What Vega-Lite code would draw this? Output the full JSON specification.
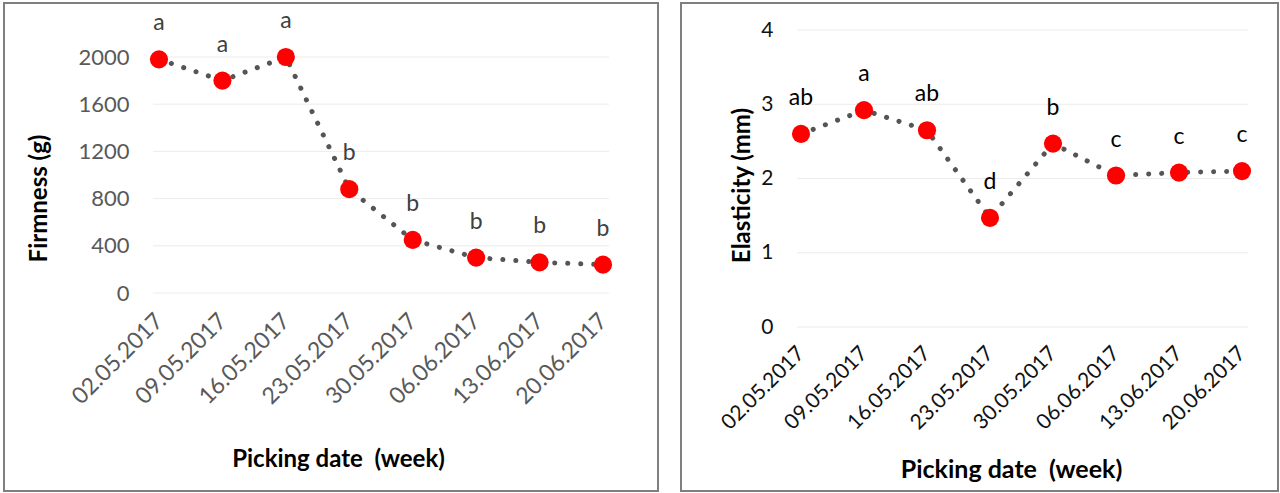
{
  "$schema": "https://vega.github.io/schema/vega-lite/v6.json",
  "padding": {"left": 3, "top": 2, "right": 0, "bottom": 0},
  "autosize": {"type": "pad"},
  "background": "white",
  "bounds": "flush",
  "spacing": 23,
  "config": {"view": {"stroke": "#7f7f7f", "strokeWidth": 2}, "font": "Lato"},
  "datasets": {
    "firm": [
      {"date": "02.05.2017", "v": 1980, "g": "a"},
      {"date": "09.05.2017", "v": 1800, "g": "a"},
      {"date": "16.05.2017", "v": 2000, "g": "a"},
      {"date": "23.05.2017", "v": 880, "g": "b"},
      {"date": "30.05.2017", "v": 450, "g": "b"},
      {"date": "06.06.2017", "v": 300, "g": "b"},
      {"date": "13.06.2017", "v": 260, "g": "b"},
      {"date": "20.06.2017", "v": 240, "g": "b"}
    ],
    "elas": [
      {"date": "02.05.2017", "v": 2.60, "g": "ab"},
      {"date": "09.05.2017", "v": 2.92, "g": "a"},
      {"date": "16.05.2017", "v": 2.65, "g": "ab"},
      {"date": "23.05.2017", "v": 1.47, "g": "d"},
      {"date": "30.05.2017", "v": 2.47, "g": "b"},
      {"date": "06.06.2017", "v": 2.04, "g": "c"},
      {"date": "13.06.2017", "v": 2.08, "g": "c"},
      {"date": "20.06.2017", "v": 2.10, "g": "c"}
    ],
    "firmGrid": [{"v": 0}, {"v": 400}, {"v": 800}, {"v": 1200}, {"v": 1600}, {"v": 2000}],
    "elasGrid": [{"v": 0}, {"v": 1}, {"v": 2}, {"v": 3}, {"v": 4}]
  },
  "hconcat": [
    {
      "width": 654,
      "height": 488,
      "layer": [
        {
          "data": {"name": "firmGrid"},
          "mark": {"type": "rule", "color": "#ececec", "strokeWidth": 1, "xOffset": -6, "x2Offset": 6},
          "encoding": {
            "x": {"datum": "02.05.2017", "type": "ordinal"},
            "x2": {"datum": "20.06.2017"},
            "y": {"field": "v", "type": "quantitative"}
          }
        },
        {
          "data": {"name": "firm"},
          "mark": {"type": "line", "color": "#555555", "strokeWidth": 5, "strokeCap": "round", "strokeDash": [0.1, 12.9]},
          "encoding": {
            "x": {"field": "date", "type": "ordinal"},
            "y": {"field": "v", "type": "quantitative"}
          }
        },
        {
          "data": {"name": "firm"},
          "mark": {"type": "circle", "color": "#ff0000", "opacity": 1, "size": 330},
          "encoding": {
            "x": {
              "field": "date", "type": "ordinal",
              "scale": {"type": "point", "padding": 0, "domain": ["02.05.2017", "09.05.2017", "16.05.2017", "23.05.2017", "30.05.2017", "06.06.2017", "13.06.2017", "20.06.2017"], "range": [155, 599]},
              "axis": {
                "offset": -198, "title": "Picking date \u00a0(week)", "labelAngle": -45, "labelFontSize": 23,
                "labelColor": "#595959", "domain": false, "ticks": false, "tickSize": 0, "labelPadding": 24,
                "titleFontSize": 24, "titleFontWeight": "bold", "titleColor": "#000000",
                "titleX": 334, "titleY": 173, "titleBaseline": "alphabetic", "grid": false, "labelOverlap": false
              }
            },
            "y": {
              "field": "v", "type": "quantitative",
              "scale": {"domain": [0, 2000], "range": [290, 54], "nice": false},
              "axis": {
                "offset": -149, "values": [0, 400, 800, 1200, 1600, 2000], "format": "d", "title": "Firmness (g)",
                "grid": false, "domain": false, "ticks": false, "tickSize": 0, "labelPadding": 24,
                "labelFontSize": 22, "labelColor": "#595959", "titleFontSize": 24, "titleFontWeight": "bold",
                "titleColor": "#000000", "titleX": -114, "titleY": 195, "titleBaseline": "middle", "titleAngle": 270
              }
            }
          }
        },
        {
          "data": {"name": "firm"},
          "mark": {"type": "text", "dy": -29, "baseline": "alphabetic", "fontSize": 23, "color": "#404040"},
          "encoding": {
            "x": {"field": "date", "type": "ordinal"},
            "y": {"field": "v", "type": "quantitative"},
            "text": {"field": "g"}
          }
        }
      ]
    },
    {
      "width": 597,
      "height": 488,
      "layer": [
        {
          "data": {"name": "elasGrid"},
          "mark": {"type": "rule", "color": "#ececec", "strokeWidth": 1, "xOffset": -4, "x2Offset": 6},
          "encoding": {
            "x": {"datum": "02.05.2017", "type": "ordinal"},
            "x2": {"datum": "20.06.2017"},
            "y": {"field": "v", "type": "quantitative"}
          }
        },
        {
          "data": {"name": "elas"},
          "mark": {"type": "line", "color": "#555555", "strokeWidth": 5, "strokeCap": "round", "strokeDash": [0.1, 12.9]},
          "encoding": {
            "x": {"field": "date", "type": "ordinal"},
            "y": {"field": "v", "type": "quantitative"}
          }
        },
        {
          "data": {"name": "elas"},
          "mark": {"type": "circle", "color": "#ff0000", "opacity": 1, "size": 330},
          "encoding": {
            "x": {
              "field": "date", "type": "ordinal",
              "scale": {"type": "point", "padding": 0, "domain": ["02.05.2017", "09.05.2017", "16.05.2017", "23.05.2017", "30.05.2017", "06.06.2017", "13.06.2017", "20.06.2017"], "range": [120, 561]},
              "axis": {
                "offset": -164, "title": "Picking date \u00a0(week)", "labelAngle": -45, "labelFontSize": 21,
                "labelColor": "#111111", "domain": false, "ticks": false, "tickSize": 0, "labelPadding": 23,
                "titleFontSize": 25, "titleFontWeight": "bold", "titleColor": "#000000",
                "titleX": 330, "titleY": 150, "titleBaseline": "alphabetic", "grid": false, "labelOverlap": false
              }
            },
            "y": {
              "field": "v", "type": "quantitative",
              "scale": {"domain": [0, 4], "range": [324, 27], "nice": false},
              "axis": {
                "offset": -117, "values": [0, 1, 2, 3, 4], "format": "d", "title": "Elasticity (mm)",
                "grid": false, "domain": false, "ticks": false, "tickSize": 0, "labelPadding": 25,
                "labelFontSize": 21, "labelColor": "#111111", "titleFontSize": 24, "titleFontWeight": "bold",
                "titleColor": "#000000", "titleX": -56, "titleY": 182, "titleBaseline": "middle", "titleAngle": 270
              }
            }
          }
        },
        {
          "data": {"name": "elas"},
          "mark": {"type": "text", "dy": -29, "baseline": "alphabetic", "fontSize": 23, "color": "#000000"},
          "encoding": {
            "x": {"field": "date", "type": "ordinal"},
            "y": {"field": "v", "type": "quantitative"},
            "text": {"field": "g"}
          }
        }
      ]
    }
  ]
}
